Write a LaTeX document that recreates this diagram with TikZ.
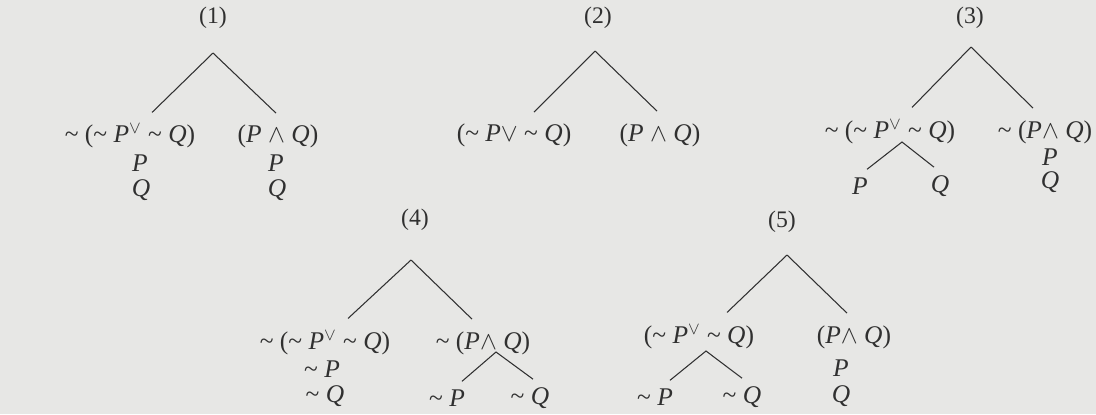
\documentclass[tikz,border=0pt]{standalone}
\usepackage{fontspec}
\setmainfont{Liberation Serif}
\usetikzlibrary{calc}

\definecolor{ink}{HTML}{303030}
\definecolor{paper}{HTML}{E7E7E5}
\newcommand{\tld}{\textasciitilde}
\newcommand{\orsym}{\textsuperscript{$\vee$}}

\begin{document}
\begin{tikzpicture}[
    x=0.02cm, y=-0.02cm,
    formula/.style={inner sep=0pt, text=ink, font=\fontsize{14.5}{16}\selectfont},
    tag/.style={formula, font=\fontsize{13.5}{15}\selectfont},
    branch/.style={draw=ink, line width=0.6pt}
]

    % --- PAPER ---
    \fill[paper] (0,0) rectangle (1096,414);
    \useasboundingbox (0,0) rectangle (1096,414);

    % --- TREE (1) ---
    \node[tag] (T1) at (213,18) {(1)};
    \coordinate (a1) at (213,53);
    \node[formula] (L1) at (130,136) {\tld{} (\tld{} \textit{P}\orsym{} \tld{} \textit{Q})};
    \node[formula] (R1) at (278,136) {(\textit{P} $\wedge$ \textit{Q})};
    \node[formula] (L1p) at (140,163) {\textit{P}};
    \node[formula] (L1q) at (141,190) {\textit{Q}};
    \node[formula] (R1p) at (276,163) {\textit{P}};
    \node[formula] (R1q) at (277,190) {\textit{Q}};
    \draw[branch] (a1) -- ($(L1.north)+(22,-11)$);
    \draw[branch] (a1) -- ($(R1.north)+(-2,-11)$);

    % --- TREE (2) ---
    \node[tag] (T2) at (598,18) {(2)};
    \coordinate (a2) at (595,51);
    \node[formula] (L2) at (514,135) {(\tld{} \textit{P}$\vee$ \tld{} \textit{Q})};
    \node[formula] (R2) at (660,135) {(\textit{P} $\wedge$ \textit{Q})};
    \draw[branch] (a2) -- ($(L2.north)+(20,-11)$);
    \draw[branch] (a2) -- ($(R2.north)+(-3,-12)$);

    % --- TREE (3) ---
    \node[tag] (T3) at (970,18) {(3)};
    \coordinate (a3) at (971,47);
    \node[formula] (L3) at (890,132) {\tld{} (\tld{} \textit{P}\orsym{} \tld{} \textit{Q})};
    \node[formula] (R3) at (1045,132) {\tld{} (\textit{P}$\wedge$ \textit{Q})};
    \node[formula] (L3p) at (860,186) {\textit{P}};
    \node[formula] (L3q) at (940,186) {\textit{Q}};
    \node[formula] (R3p) at (1050,157) {\textit{P}};
    \node[formula] (R3q) at (1050,182) {\textit{Q}};
    \coordinate (b3) at (902,142);
    \draw[branch] (a3) -- ($(L3.north)+(22,-12)$);
    \draw[branch] (a3) -- ($(R3.north)+(-12,-12)$);
    \draw[branch] ($(L3p.north)+(7,-8)$) -- (b3) -- ($(L3q.north)+(-6,-8)$);

    % --- TREE (4) ---
    \node[tag] (T4) at (415,220) {(4)};
    \coordinate (a4) at (411,260);
    \node[formula] (L4) at (325,343) {\tld{} (\tld{} \textit{P}\orsym{} \tld{} \textit{Q})};
    \node[formula] (R4) at (483,343) {\tld{} (\textit{P}$\wedge$ \textit{Q})};
    \node[formula] (L4p) at (322,369) {\tld{} \textit{P}};
    \node[formula] (L4q) at (325,396) {\tld{} \textit{Q}};
    \node[formula] (R4p) at (447,398) {\tld{} \textit{P}};
    \node[formula] (R4q) at (530,398) {\tld{} \textit{Q}};
    \coordinate (b4) at (496,352);
    \draw[branch] (a4) -- ($(L4.north)+(23,-12)$);
    \draw[branch] (a4) -- ($(R4.north)+(-11,-12)$);
    \draw[branch] ($(R4p.north)+(15,-8)$) -- (b4) -- ($(R4q.north)+(3,-8)$);

    % --- TREE (5) ---
    \node[tag] (T5) at (782,222) {(5)};
    \coordinate (a5) at (787,255);
    \node[formula] (L5) at (699,337) {(\tld{} \textit{P}\orsym{} \tld{} \textit{Q})};
    \node[formula] (R5) at (854,337) {(\textit{P}$\wedge$ \textit{Q})};
    \node[formula] (R5p) at (841,368) {\textit{P}};
    \node[formula] (R5q) at (841,396) {\textit{Q}};
    \node[formula] (L5p) at (655,397) {\tld{} \textit{P}};
    \node[formula] (L5q) at (742,397) {\tld{} \textit{Q}};
    \coordinate (b5) at (706,351);
    \draw[branch] (a5) -- ($(L5.north)+(28,-12)$);
    \draw[branch] (a5) -- ($(R5.north)+(-7,-12)$);
    \draw[branch] ($(L5p.north)+(15,-8)$) -- (b5) -- ($(L5q.north)+(0,-8)$);

\end{tikzpicture}
\end{document}
